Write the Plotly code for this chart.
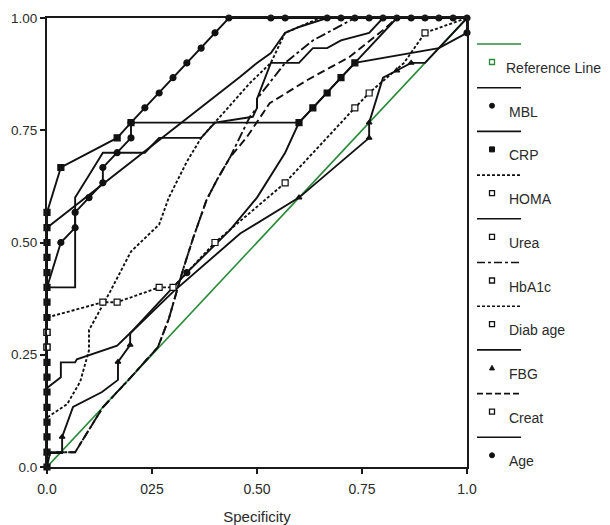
import plotly.graph_objects as go

# ---------------- data ----------------
ref_x = [0, 1]
ref_y = [0, 1]

mbl_x = [0, 0, 0.033, 0.067, 0.067, 0.1, 0.133, 0.133, 0.167, 0.2, 0.2, 0.233, 0.267, 0.3, 0.333, 0.367, 0.4, 0.433, 1.0]
mbl_y = [0, 0.4, 0.5, 0.533, 0.567, 0.6, 0.633, 0.667, 0.7, 0.733, 0.767, 0.8, 0.833, 0.867, 0.9, 0.933, 0.967, 1.0, 1.0]
mbl_mx = [0.033, 0.067, 0.067, 0.1, 0.133, 0.133, 0.167, 0.2, 0.2, 0.233, 0.267, 0.3, 0.333, 0.367, 0.4, 0.433,
          0.533, 0.567, 0.667, 0.7, 0.733, 0.767, 0.8, 0.833, 0.867, 0.9, 0.933, 0.967, 1.0]
mbl_my = [0.5, 0.533, 0.567, 0.6, 0.633, 0.667, 0.7, 0.733, 0.767, 0.8, 0.833, 0.867, 0.9, 0.933, 0.967, 1.0,
          1.0, 1.0, 1.0, 1.0, 1.0, 1.0, 1.0, 1.0, 1.0, 1.0, 1.0, 1.0, 1.0]

crp_x = [0, 0, 0.033, 0.167, 0.2, 0.6, 0.633, 0.667, 0.7, 0.733, 0.833, 1.0]
crp_y = [0, 0.567, 0.667, 0.733, 0.767, 0.767, 0.8, 0.833, 0.867, 0.9, 1.0, 1.0]
crp_mx = [0, 0, 0, 0, 0, 0, 0, 0, 0, 0, 0, 0, 0, 0, 0, 0, 0, 0,
          0.033, 0.167, 0.2, 0.6, 0.633, 0.667, 0.7, 0.733]
crp_my = [0, 0.033, 0.067, 0.1, 0.133, 0.167, 0.2, 0.233, 0.267, 0.3, 0.333, 0.367, 0.4, 0.433, 0.467, 0.5, 0.533, 0.567,
          0.667, 0.733, 0.767, 0.767, 0.8, 0.833, 0.867, 0.9]

homa_x = [0, 0, 0.048, 0.079, 0.1, 0.1, 0.15, 0.2, 0.267, 0.29, 0.333, 0.367, 0.405, 0.483, 0.533, 0.567, 0.65, 1.0]
homa_y = [0, 0.11, 0.14, 0.19, 0.26, 0.305, 0.39, 0.48, 0.54, 0.6, 0.68, 0.733, 0.773, 0.855, 0.9, 0.967, 1.0, 1.0]

urea_x = [0, 0, 0.46, 0.5, 0.533, 0.567, 0.6, 0.667, 1.0]
urea_y = [0, 0.533, 0.869, 0.9, 0.922, 0.967, 0.98, 1.0, 1.0]
urea_mx = [0, 0]
urea_my = [0.267, 0.3]

hba1c_x = [0, 0, 0.067, 0.133, 0.2, 0.264, 0.29, 0.324, 0.348, 0.38, 0.405, 0.436, 0.483, 0.5, 0.5, 0.567, 0.633, 0.733, 1.0]
hba1c_y = [0, 0.033, 0.033, 0.133, 0.2, 0.267, 0.33, 0.44, 0.51, 0.595, 0.64, 0.69, 0.78, 0.8, 0.82, 0.9, 0.95, 1.0, 1.0]

diab_x = [0, 0, 0.133, 0.167, 0.267, 0.3, 0.4, 0.567, 0.733, 0.767, 0.85, 0.9, 1.0]
diab_y = [0, 0.333, 0.367, 0.367, 0.4, 0.4, 0.5, 0.633, 0.8, 0.833, 0.9, 0.967, 1.0]
diab_mx = [0.133, 0.167, 0.267, 0.3, 0.4, 0.567, 0.733, 0.767, 0.9]
diab_my = [0.367, 0.367, 0.4, 0.4, 0.5, 0.633, 0.8, 0.833, 0.967]

fbg_x = [0, 0.007, 0.036, 0.036, 0.062, 0.131, 0.169, 0.169, 0.198, 0.198, 0.3, 0.46, 0.6, 0.767, 0.767, 0.8, 0.833, 0.867, 0.9, 0.933, 1.0]
fbg_y = [0, 0.031, 0.031, 0.067, 0.134, 0.167, 0.194, 0.234, 0.272, 0.298, 0.39, 0.52, 0.6, 0.733, 0.767, 0.867, 0.883, 0.9, 0.9, 0.933, 1.0]
fbg_mx = [0.036, 0.169, 0.198, 0.6, 0.767, 0.767, 0.833, 0.867]
fbg_my = [0.067, 0.234, 0.272, 0.6, 0.733, 0.767, 0.883, 0.9]

creat_x = [0, 0, 0.067, 0.133, 0.2, 0.264, 0.29, 0.324, 0.348, 0.38, 0.405, 0.436, 0.476, 0.53, 0.62, 0.72, 0.8, 0.833, 1.0]
creat_y = [0, 0.033, 0.033, 0.133, 0.2, 0.267, 0.33, 0.44, 0.51, 0.595, 0.64, 0.69, 0.735, 0.81, 0.862, 0.913, 0.973, 1.0, 1.0]

age_x = [0, 0, 0.033, 0.033, 0.067, 0.071, 0.167, 0.2, 0.267, 0.333, 0.436, 0.5, 0.567, 0.6, 0.633, 0.667, 0.7, 0.733, 0.933, 1.0, 1.0]
age_y = [0, 0.176, 0.2, 0.233, 0.233, 0.24, 0.27, 0.3, 0.367, 0.433, 0.528, 0.6, 0.7, 0.767, 0.8, 0.833, 0.867, 0.9, 0.933, 0.967, 1.0]
age_mx = [0.333, 1.0]
age_my = [0.433, 0.967]

step_x = [0, 0, 0.067, 0.067, 0.1, 0.133, 0.233, 0.267, 0.367, 0.4, 0.49, 0.5, 0.5, 0.533, 0.6, 0.633, 0.667, 0.7, 0.767, 0.8, 1.0]
step_y = [0, 0.4, 0.4, 0.6, 0.65, 0.7, 0.7, 0.733, 0.733, 0.767, 0.78, 0.8, 0.82, 0.9, 0.9, 0.933, 0.933, 0.95, 0.967, 1.0, 1.0]

x_tickvals = [0, 0.25, 0.5, 0.75, 1.0]
x_ticktext = ["0.0", "025", "0.50", "0.75", "1.0"]
y_tickvals = [0, 0.25, 0.5, 0.75, 1.0]
y_ticktext = ["0.0", "0.25", "0.50", "0.75", "1.00"]

legend_names = ["Reference Line", "MBL", "CRP", "HOMA", "Urea", "HbA1c", "Diab age", "FBG", "Creat", "Age"]

# ---------------- styles ----------------
BLACK = "#111111"
GREEN = "#2a8a3a"
TXT = "#2a2a2a"
SHORT = "3px,2px"
DASH = "8px,4px"
LDD = "10px,3px,3px,3px"

fig = go.Figure()

def add_line(x, y, dash="solid", color=BLACK, width=1.9):
    fig.add_trace(go.Scatter(x=x, y=y, mode="lines", line=dict(color=color, width=width, dash=dash),
                             showlegend=False, hoverinfo="skip"))

def add_marks(x, y, symbol, size=6, fill=BLACK, edge=BLACK):
    fig.add_trace(go.Scatter(x=x, y=y, mode="markers", cliponaxis=False,
                             marker=dict(symbol=symbol, size=size, color=fill, line=dict(color=edge, width=1.2)),
                             showlegend=False, hoverinfo="skip"))

add_line(ref_x, ref_y, color=GREEN, width=1.6)
add_line(creat_x, creat_y, DASH)
add_line(hba1c_x, hba1c_y, LDD)
add_line(homa_x, homa_y, SHORT)
add_line(diab_x, diab_y, SHORT)
add_line(fbg_x, fbg_y)
add_line(age_x, age_y)
add_line(step_x, step_y)
add_line(urea_x, urea_y)
add_line(crp_x, crp_y)
add_line(mbl_x, mbl_y)

add_marks(crp_mx, crp_my, "square", 6)
add_marks(mbl_mx, mbl_my, "circle", 6)
add_marks(age_mx, age_my, "circle", 6)
add_marks(fbg_mx, fbg_my, "triangle-up", 5)
add_marks(diab_mx, diab_my, "square", 6, fill="white")
add_marks(urea_mx, urea_my, "square", 6, fill="white")

# ---------------- layout ----------------
# page body has an 8px margin, so the figure is drawn slightly smaller and shifted
W, H = 602, 517
L, T = 39, 10
PW, PH = 420, 449
R, B = W - L - PW, H - T - PH

# screen-pixel -> paper conversion (plot area on screen spans x 47..467, y 18..467)
def px(xs):
    return (xs - 47) / PW

def py(ys):
    return (467 - ys) / PH

FONT = "Liberation Sans, Arial, sans-serif"

fig.update_layout(
    width=W, height=H, margin=dict(l=L, r=R, t=T, b=B, autoexpand=False),
    paper_bgcolor="white", plot_bgcolor="white",
    font=dict(family=FONT, size=14, color=TXT),
    showlegend=False,
)
axis_common = dict(range=[0, 1], showgrid=False, zeroline=False, showline=True, linecolor="#1a1a1a",
                   linewidth=2, mirror=True, ticks="outside", ticklen=5, tickwidth=1.5, tickcolor="#1a1a1a",
                   automargin=False)
fig.update_xaxes(**axis_common, tickvals=x_tickvals, ticktext=x_ticktext, ticklabelstandoff=3,
                 tickfont=dict(family=FONT, size=14, color=TXT),
                 title=dict(text="Specificity", font=dict(family=FONT, size=15, color=TXT), standoff=18))
fig.update_yaxes(**axis_common, tickvals=y_tickvals, ticktext=y_ticktext,
                 tickfont=dict(family=FONT, size=13.5, color=TXT))

# ---------------- manual legend ----------------
legend_dash = ["solid", "solid", "solid", "dot", "solid", "dashdot", "dot", "solid", "dash", "solid"]
legend_symbol = ["open-square", "circle", "square", "open-square", "open-square", "open-square", "open-square",
                 "triangle", "open-square", "circle"]
dash_map = {"solid": None, "dot": "3px,2px", "dash": "6px,3px", "dashdot": "8px,3px,3px,3px"}

shapes = []
annotations = []
for i, name in enumerate(legend_names):
    ly = 44 + i * 43.7
    col = GREEN if i == 0 else BLACK
    line = dict(color=col, width=1.6)
    if dash_map[legend_dash[i]]:
        line["dash"] = dash_map[legend_dash[i]]
    shapes.append(dict(type="line", xref="paper", yref="paper", x0=px(477), x1=px(521), y0=py(ly), y1=py(ly),
                       line=line))
    my = ly + 18
    mx = 492
    sym = legend_symbol[i]
    if sym == "circle":
        shapes.append(dict(type="circle", xref="paper", yref="paper", x0=px(mx - 2.5), x1=px(mx + 2.5),
                           y0=py(my + 2.5), y1=py(my - 2.5), fillcolor=BLACK, line=dict(color=BLACK, width=1)))
    elif sym == "square":
        shapes.append(dict(type="rect", xref="paper", yref="paper", x0=px(mx - 2.5), x1=px(mx + 2.5),
                           y0=py(my + 2.5), y1=py(my - 2.5), fillcolor=BLACK, line=dict(color=BLACK, width=1)))
    elif sym == "triangle":
        path = "M {} {} L {} {} L {} {} Z".format(px(mx - 2.5), py(my + 2), px(mx + 2.5), py(my + 2), px(mx), py(my - 2.5))
        shapes.append(dict(type="path", xref="paper", yref="paper", path=path, fillcolor=BLACK,
                           line=dict(color=BLACK, width=1)))
    else:
        shapes.append(dict(type="rect", xref="paper", yref="paper", x0=px(mx - 2.5), x1=px(mx + 2.5),
                           y0=py(my + 2.5), y1=py(my - 2.5), fillcolor="white", line=dict(color=col, width=1.3)))
    tx = 504 if i == 0 else 507
    annotations.append(dict(text=name, xref="paper", yref="paper", x=px(tx), y=py(ly + 24), xanchor="left",
                            yanchor="middle", showarrow=False, font=dict(family=FONT, size=14, color=TXT)))

fig.update_layout(shapes=shapes, annotations=annotations)

fig.write_html("out.html")
